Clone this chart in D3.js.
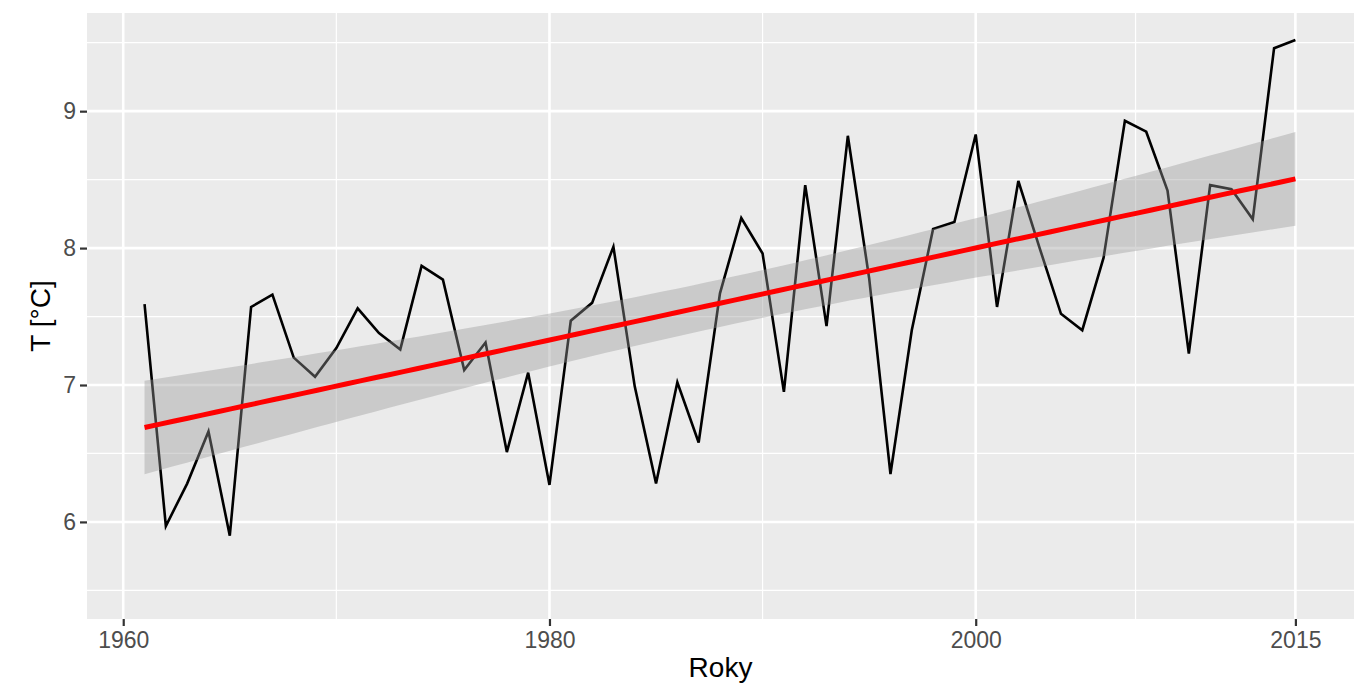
<!DOCTYPE html>
<html>
<head>
<meta charset="utf-8">
<script src="https://cdn.jsdelivr.net/npm/d3@7"></script>
<style>
  html, body { margin: 0; padding: 0; background: #fff; }
  svg { display: block; }
  text { font-family: "Liberation Sans", Arial, sans-serif; }
</style>
</head>
<body>
<svg id="chart" width="1363" height="685"></svg>
<script>
// Annual mean temperature, 1961–2015
const years = d3.range(1961, 2016);
const temps = [
  7.59, 5.97, 6.28, 6.66, 5.90, 7.57, 7.66, 7.20, 7.06, 7.27,
  7.56, 7.38, 7.26, 7.87, 7.77, 7.11, 7.31, 6.51, 7.09, 6.27,
  7.47, 7.60, 8.01, 6.99, 6.28, 7.02, 6.58, 7.67, 8.22, 7.96,
  6.95, 8.46, 7.43, 8.82, 7.78, 6.35, 7.40, 8.14, 8.19, 8.83,
  7.57, 8.49, 8.00, 7.52, 7.40, 7.93, 8.93, 8.85, 8.42, 7.23,
  8.46, 8.43, 8.21, 9.46, 9.52
];

const xMajorTicks = [1960, 1980, 2000, 2015];
const xMinorTicks = [1970, 1990, 2007.5];
const yMajorTicks = [6, 7, 8, 9];
const yMinorTicks = [5.5, 6.5, 7.5, 8.5, 9.5];

const xTitle = "Roky";
const yTitle = "T [°C]";

const data = years.map((y, i) => ({ year: y, t: temps[i] }));

// Panel geometry
const panel = { left: 87, right: 1354, top: 13, bottom: 619 };

const x = d3.scaleLinear().domain([1958.3, 2017.75]).range([panel.left, panel.right]);
const y = d3.scaleLinear().domain([5.291, 9.717]).range([panel.bottom, panel.top]);

const svg = d3.select("#chart");

// Panel background
svg.append("rect")
  .attr("x", panel.left).attr("y", panel.top)
  .attr("width", panel.right - panel.left)
  .attr("height", panel.bottom - panel.top)
  .attr("fill", "#EBEBEB");

const grid = svg.append("g").attr("fill", "none").attr("stroke", "#fff");

// Minor grid lines
grid.selectAll(".hmin").data(yMinorTicks).join("line")
  .attr("x1", panel.left).attr("x2", panel.right)
  .attr("y1", d => y(d)).attr("y2", d => y(d))
  .attr("stroke-width", 1.2);
grid.selectAll(".vmin").data(xMinorTicks).join("line")
  .attr("y1", panel.top).attr("y2", panel.bottom)
  .attr("x1", d => x(d)).attr("x2", d => x(d))
  .attr("stroke-width", 1.2);

// Major grid lines
grid.selectAll(".hmaj").data(yMajorTicks).join("line")
  .attr("x1", panel.left).attr("x2", panel.right)
  .attr("y1", d => y(d)).attr("y2", d => y(d))
  .attr("stroke-width", 2.6);
grid.selectAll(".vmaj").data(xMajorTicks).join("line")
  .attr("y1", panel.top).attr("y2", panel.bottom)
  .attr("x1", d => x(d)).attr("x2", d => x(d))
  .attr("stroke-width", 2.6);

// Temperature series
const line = d3.line().x(d => x(d.year)).y(d => y(d.t));
svg.append("path")
  .datum(data)
  .attr("fill", "none")
  .attr("stroke", "#000")
  .attr("stroke-width", 2.6)
  .attr("stroke-linejoin", "miter")
  .attr("d", line);

// Ordinary least squares fit with 95% confidence band
const n = data.length;
const mx = d3.mean(data, d => d.year);
const my = d3.mean(data, d => d.t);
const sxx = d3.sum(data, d => (d.year - mx) ** 2);
const sxy = d3.sum(data, d => (d.year - mx) * (d.t - my));
const slope = sxy / sxx;
const intercept = my - slope * mx;
const resid = data.map(d => d.t - (intercept + slope * d.year));
const s = Math.sqrt(d3.sum(resid, r => r * r) / (n - 2));
const tCrit = 2.0057; // Student t, 0.975 quantile, 53 df

const xs = d3.range(0, 81).map(i => 1961 + (2015 - 1961) * i / 80);
const fit = xs.map(xv => {
  const yhat = intercept + slope * xv;
  const se = s * Math.sqrt(1 / n + (xv - mx) ** 2 / sxx);
  return { x: xv, y: yhat, lo: yhat - tCrit * se, hi: yhat + tCrit * se };
});

svg.append("path")
  .datum(fit)
  .attr("fill", "#999999")
  .attr("fill-opacity", 0.4)
  .attr("d", d3.area().x(d => x(d.x)).y0(d => y(d.lo)).y1(d => y(d.hi)));

svg.append("path")
  .datum(fit)
  .attr("fill", "none")
  .attr("stroke", "#FF0000")
  .attr("stroke-width", 5)
  .attr("d", d3.line().x(d => x(d.x)).y(d => y(d.y)));

// Axes
const xAxis = svg.append("g")
  .attr("transform", `translate(0,${panel.bottom})`)
  .call(d3.axisBottom(x).tickValues(xMajorTicks).tickFormat(d3.format("d")).tickSize(7).tickPadding(6));
const yAxis = svg.append("g")
  .attr("transform", `translate(${panel.left},0)`)
  .call(d3.axisLeft(y).tickValues(yMajorTicks).tickFormat(d3.format("d")).tickSize(7).tickPadding(4));

[xAxis, yAxis].forEach(g => {
  g.select(".domain").remove();
  g.selectAll(".tick line").attr("stroke", "#333333").attr("stroke-width", 2.2);
  g.selectAll(".tick text")
    .attr("fill", "#4D4D4D")
    .style("font-size", "23px")
    .style("font-family", "'Liberation Sans', Arial, sans-serif");
});

// Axis titles
svg.append("text")
  .attr("x", (panel.left + panel.right) / 2)
  .attr("y", 677)
  .attr("text-anchor", "middle")
  .attr("fill", "#000")
  .style("font-size", "28px")
  .text(xTitle);

svg.append("text")
  .attr("transform", `translate(50,${(panel.top + panel.bottom) / 2}) rotate(-90)`)
  .attr("text-anchor", "middle")
  .attr("fill", "#000")
  .style("font-size", "28px")
  .text(yTitle);
</script>
</body>
</html>
